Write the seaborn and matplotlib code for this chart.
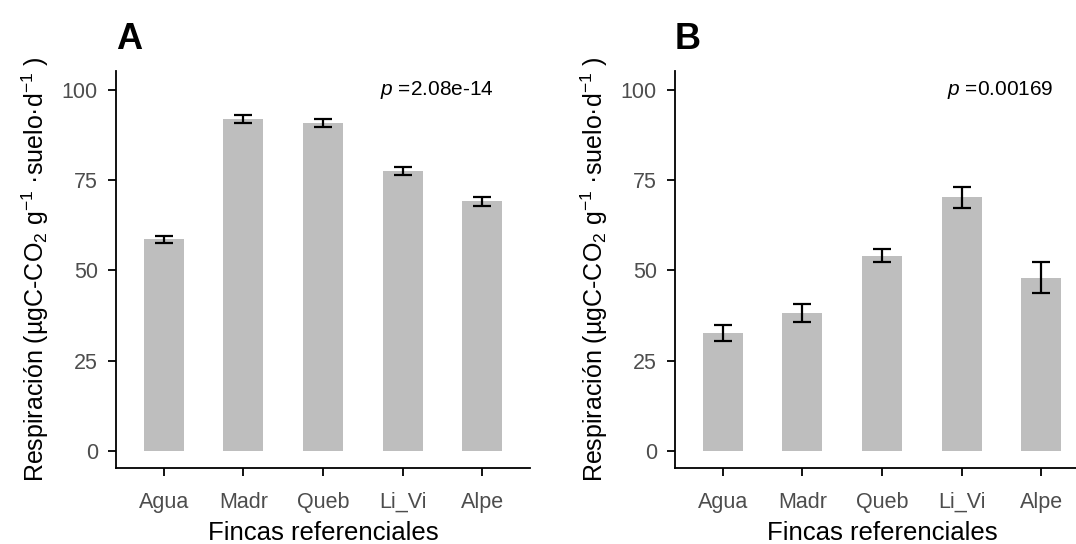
import matplotlib
matplotlib.use("Agg")
import matplotlib.pyplot as plt
import seaborn as sns
import pandas as pd

sns.set_style("white")
plt.rcParams['font.family'] = ['Liberation Sans', 'DejaVu Sans']
plt.rcParams['mathtext.fontset'] = 'custom'
plt.rcParams['mathtext.rm'] = 'Liberation Sans'
plt.rcParams['mathtext.it'] = 'Liberation Sans:italic'

# Data
fincas = ["Agua", "Madr", "Queb", "Li_Vi", "Alpe"]
resp_a = [58.6, 91.9, 90.8, 77.5, 69.1]
err_a = [1.0, 1.2, 1.15, 1.0, 1.2]
resp_b = [32.6, 38.1, 54.1, 70.2, 48.0]
err_b = [2.2, 2.5, 1.9, 2.8, 4.2]
p_labels = ["2.08e-14", "0.00169"]
panel_labels = ["A", "B"]
yticks = [0, 25, 50, 75, 100]

ylabel = r"Respiración (µgC-CO$_2$ g$^{-1}$ ·suelo·d$^{-1}$ )"

fig = plt.figure(figsize=(10.76, 5.44), dpi=100)
ax_a = fig.add_axes([0.1078, 0.1397, 0.3848, 0.7298])
ax_b = fig.add_axes([0.6273, 0.1397, 0.3848, 0.7298])

for ax, vals, errs, p, lab in zip([ax_a, ax_b], [resp_a, resp_b], [err_a, err_b],
                                  p_labels, panel_labels):
    df = pd.DataFrame({"finca": fincas, "resp": vals})
    sns.barplot(data=df, x="finca", y="resp", color="#bebebe", saturation=1,
                width=0.5, errorbar=None, linewidth=0, ax=ax)
    ax.errorbar(x=ax.get_xticks(), y=vals, yerr=errs, fmt="none", ecolor="black",
                elinewidth=1.6, capsize=6.5, capthick=1.6)
    ax.set_xlim(-0.6, 4.6)
    ax.set_ylim(-4.7, 105.2)
    ax.set_yticks(yticks)
    sns.despine(ax=ax)
    for s in ["left", "bottom"]:
        ax.spines[s].set_linewidth(1.3)
        ax.spines[s].set_color("black")
    ax.tick_params(axis="both", length=6, width=1.3, color="black",
                   labelsize=15.5, labelcolor="#4d4d4d", direction="out")
    ax.tick_params(axis="x", bottom=True, pad=11)
    ax.tick_params(axis="y", left=True, pad=7)
    ax.set_xlabel("Fincas referenciales", fontsize=18.5, labelpad=6, color="black")
    ax.set_ylabel(ylabel, fontsize=18, labelpad=8, color="black")
    ax.set_title(lab, loc="left", fontweight="bold", fontsize=26, pad=16, color="black")
    # p-value note in the top right corner
    ax.text(4.15, 100, r"$\it{p}$ =" + p, ha="right", va="center", fontsize=15,
            color="black")

fig.savefig("out.png", dpi=100)
